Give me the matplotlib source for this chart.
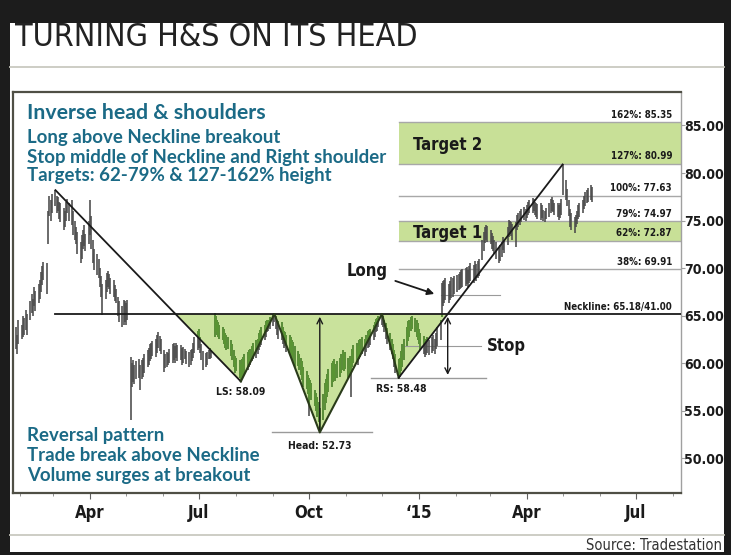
import os
import numpy as np
import pandas as pd
import matplotlib
matplotlib.use("Agg")
import matplotlib.pyplot as plt
import matplotlib.dates as mdates
from matplotlib import font_manager as fm
from matplotlib.patches import Rectangle, Polygon
from matplotlib.lines import Line2D

W, H = 731, 555
BLUE_FONT = ['Lato', 'DejaVu Sans']
BLUE = '#1b6a86'
GREEN_FILL = '#c9e29c'
GREEN_BAR = '#5a9832'
INK = '#1a1a1a'

# ---- price bars: daily low / high, one row per week (from Wed 29 Jan 2014)
first_day = '2014-01-29'
lows = [
    61.5, 61.0, 62.0,
    62.5, 62.8, 63.0, 63.5, 63.0,
    64.5, 65.3, 65.0, 66.0, 65.5,
    66.3, 66.8, 67.5, 68.2, 68.8,
    67.3, 72.5, 75.5, 75.0, 75.8,
    76.5, 75.8, 76.0, 75.2, 74.8,
    74.0, 74.3, 75.0, 75.8, 75.0,
    74.5, 73.5, 73.0, 72.5, 71.5,
    70.5, 71.0, 72.0, 72.3, 71.8,
    72.5, 73.5, 72.0, 70.5, 69.8,
    69.3, 69.0, 68.0, 67.0, 65.1,
    66.8, 67.5, 68.0, 67.8, 67.3,
    67.0, 66.5, 66.3, 65.0, 64.3,
    63.8, 64.0, 64.3, 64.0, 64.5,
    54.0, 57.5, 58.0, 57.8, 58.3,
    58.5, 57.2, 58.3, 58.6, 59.0,
    59.6, 59.8, 60.2, 60.5, 60.8,
    60.7, 61.1, 61.6, 61.3, 61.0,
    59.1, 59.5, 59.6, 59.8, 60.0,
    60.0, 60.3, 60.0, 60.6, 60.2,
    60.3, 59.8, 60.0, 60.4, 59.9,
    59.6, 59.8, 60.2, 60.6, 61.1,
    61.4, 61.6, 61.1, 60.3, 59.3,
    59.6, 59.8, 60.4, 60.5, 60.6,
    62.8, 63.3, 63.0, 62.8, 62.6,
    62.4, 62.0, 61.6, 61.4, 61.5,
    60.8, 60.3, 59.6, 59.0, 59.2,
    58.5, 58.09, 58.4, 58.6, 59.0,
    59.3, 59.6, 59.8, 60.2, 60.4,
    60.6, 61.0, 61.4, 61.7, 61.9,
    62.4, 62.8, 63.3, 63.4, 63.6,
    63.9, 64.3, 63.6, 63.0, 62.6,
    62.4, 62.0, 61.6, 61.8, 61.2,
    61.1, 60.9, 60.5, 60.0, 59.6,
    59.7, 59.3, 58.8, 58.2, 57.5,
    57.3, 56.8, 54.5, 56.5, 56.1,
    55.5, 55.0, 54.4, 53.8, 52.73,
    54.0, 55.1, 55.8, 56.5, 57.0,
    57.5, 58.0, 58.3, 58.1, 58.4,
    58.6, 59.0, 59.3, 59.2, 59.4,
    58.5, 58.8, 56.5, 59.6, 60.0,
    60.2, 59.8, 60.4, 60.7, 61.0,
    60.8, 61.2, 61.6, 61.7, 61.9,
    62.4, 62.8, 63.3, 63.4, 63.8,
    64.0, 63.8, 63.3, 62.6, 62.0,
    61.4, 61.0, 60.4, 59.6, 59.0,
    58.48, 58.6, 59.2, 59.6, 60.3,
    61.8, 62.3, 62.8, 63.4, 63.6,
    63.3, 62.8, 62.4, 62.0, 61.4,
    61.0, 60.7, 60.9, 61.1, 60.9,
    61.1, 61.3, 61.0, 61.5, 61.8,
    62.4, 64.9, 66.0, 66.3, 66.6,
    66.3, 66.6, 66.9, 67.0, 67.3,
    67.5, 67.7, 67.8, 67.9, 68.0,
    68.1, 68.3, 68.0, 68.4, 68.6,
    68.4, 68.8, 68.7, 69.0, 69.2,
    70.9, 71.8, 72.6, 73.0, 72.8,
    72.5, 72.0, 71.8, 71.5, 71.0,
    70.5, 70.7, 71.2, 71.9, 71.6,
    72.4, 73.3, 73.6, 73.4, 73.0,
    72.2, 74.0, 74.3, 74.5, 74.8,
    75.1, 75.0, 75.3, 75.6, 75.8,
    75.8, 76.0, 75.6, 75.4, 75.2,
    75.1, 75.3, 75.0, 74.9, 75.2,
    75.4, 75.8, 76.0, 75.9, 75.6,
    75.4, 75.1, 75.3, 75.6, 77.7,
    77.2, 76.5, 75.5, 74.3, 74.0,
    73.7, 74.3, 74.6, 75.2, 75.4,
    75.8, 76.2, 76.5, 76.9, 77.0,
    77.2, 77.0,
]
highs = [
    63.8, 63.0, 64.6,
    64.0, 65.0, 64.8, 65.6, 65.2,
    66.5, 67.3, 66.8, 68.0, 67.6,
    68.3, 68.8, 69.6, 70.2, 70.6,
    70.5, 76.0, 77.6, 77.2, 77.8,
    78.2, 77.6, 77.5, 77.0, 76.8,
    76.3, 76.0, 77.0, 77.3, 76.8,
    77.2, 76.0, 75.0, 74.3, 73.8,
    72.8, 73.5, 74.0, 74.5, 73.6,
    75.0, 77.2, 75.5, 73.0, 72.0,
    71.5, 71.0, 70.0, 69.2, 68.3,
    68.8, 69.5, 69.7, 69.4, 69.0,
    68.8, 68.2, 67.8, 67.0, 66.5,
    66.0, 66.7, 66.5, 66.3, 66.7,
    60.7, 60.0, 60.3, 59.8, 60.2,
    60.4, 59.8, 60.3, 60.6, 61.0,
    61.4, 61.6, 62.0, 62.1, 62.3,
    62.6, 63.0, 63.3, 62.9, 62.6,
    61.4, 61.0, 61.2, 61.1, 61.5,
    62.0, 62.1, 61.8, 62.1, 61.9,
    61.9, 61.6, 61.7, 61.5, 61.3,
    61.2, 61.4, 61.5, 62.1, 62.8,
    63.4, 63.6, 62.8, 62.0, 61.3,
    61.1, 61.2, 61.4, 61.6, 61.4,
    65.3, 65.0, 64.6, 64.3, 64.0,
    63.8, 63.6, 63.2, 63.0, 62.8,
    62.4, 62.0, 61.4, 60.8, 60.6,
    60.3, 59.9, 60.4, 60.7, 61.0,
    61.2, 61.4, 61.5, 61.8, 62.1,
    62.4, 62.6, 63.2, 63.5, 63.8,
    64.0, 64.4, 64.6, 64.5, 64.9,
    65.2, 65.3, 65.0, 64.6, 64.4,
    64.3, 63.8, 63.4, 63.3, 63.0,
    63.0, 62.8, 62.4, 62.2, 61.8,
    61.3, 61.0, 60.6, 60.2, 59.6,
    59.2, 58.8, 58.4, 58.2, 57.9,
    57.2, 56.9, 56.5, 55.9, 55.3,
    56.8, 57.9, 58.3, 58.9, 59.4,
    60.0, 60.2, 60.4, 59.9, 60.2,
    60.6, 61.0, 61.4, 61.1, 61.2,
    60.6, 60.8, 60.4, 61.5, 61.9,
    62.1, 61.8, 62.4, 62.6, 62.8,
    62.6, 63.0, 63.4, 63.5, 63.6,
    64.0, 64.3, 64.7, 64.8, 65.0,
    65.2, 65.0, 64.6, 64.2, 63.7,
    63.2, 62.6, 62.0, 61.4, 61.0,
    60.4, 60.6, 61.3, 62.0, 62.5,
    63.8, 64.4, 64.6, 64.9, 65.0,
    64.8, 64.5, 64.2, 63.6, 63.2,
    62.9, 62.5, 62.6, 62.8, 62.4,
    62.8, 63.0, 62.6, 63.2, 63.8,
    64.5, 68.4, 68.6, 68.8, 69.0,
    68.3, 68.7, 69.1, 69.0, 69.2,
    69.3, 69.4, 69.6, 69.8, 69.9,
    70.0, 70.1, 69.8, 70.2, 70.5,
    70.3, 70.8, 70.4, 70.8, 71.0,
    73.0, 73.8, 74.3, 74.5, 74.4,
    74.0, 73.7, 73.4, 73.0, 72.8,
    72.2, 72.4, 72.8, 73.3, 73.0,
    74.3, 75.1, 75.0, 74.8, 74.6,
    74.8, 75.6, 75.8, 76.0, 76.2,
    76.4, 76.2, 76.6, 77.0, 77.2,
    77.4, 77.3, 77.0, 76.9, 76.7,
    76.9, 76.6, 76.1, 76.0, 76.3,
    76.8, 77.3, 77.5, 77.2, 76.9,
    76.9, 76.6, 76.8, 77.3, 80.9,
    79.3, 78.3, 77.2, 76.2, 75.8,
    75.4, 75.6, 76.0, 76.6, 76.9,
    77.2, 77.6, 78.0, 78.2, 78.4,
    78.7, 78.5,
]

neckline = 65.18
level_pct = ['162%', '127%', '100%', '79%', '62%', '38%']
level_val = [85.35, 80.99, 77.63, 74.97, 72.87, 69.91]
band_lo = [80.99, 72.87]
band_hi = [85.35, 74.97]
band_names = ['Target 2', 'Target 1']
long_entry = 67.2

month_ticks = ['2014-04-01', '2014-07-01', '2014-10-01', '2015-01-01', '2015-04-01', '2015-07-01']
month_labels = ['Apr', 'Jul', 'Oct', '\u201815', 'Apr', 'Jul']
y_ticks = [50, 55, 60, 65, 70, 75, 80, 85]

notes_top = ['Long above Neckline breakout',
             'Stop middle of Neckline and Right shoulder',
             'Targets: 62-79% & 127-162% height']
notes_bottom = ['Reversal pattern',
                'Trade break above Neckline',
                'Volume surges at breakout']


# ---- condensed fonts, picked by file so the match is always the same
def font_file(names):
    files = {os.path.basename(f.fname): f.fname for f in fm.fontManager.ttflist}
    for n in names:
        if n in files:
            return files[n]
    return None


COND = font_file(['DejaVuSansCondensed.ttf', 'LiberationSansNarrow-Regular.ttf'])
COND_B = font_file(['DejaVuSansCondensed-Bold.ttf', 'LiberationSansNarrow-Bold.ttf'])


def cfont(size, bold=True):
    f = COND_B if bold else COND
    if f:
        return fm.FontProperties(fname=f, size=size)
    return fm.FontProperties(family='DejaVu Sans', weight='bold' if bold else 'normal',
                             size=size * 0.9)


# ---- pattern points from the bars
lows = np.array(lows)
highs = np.array(highs)
dates = pd.bdate_range(first_day, periods=len(lows))
xd = mdates.date2num(dates)


def pick(arr, start, end, fn):
    idx = np.where((dates >= start) & (dates <= end))[0]
    i = idx[fn(arr[idx])]
    return xd[i], arr[i]


peak = pick(highs, '2014-02-15', '2014-03-31', np.argmax)
ls = pick(lows, '2014-07-15', '2014-08-31', np.argmin)
head = pick(lows, '2014-09-15', '2014-11-15', np.argmin)
rs = pick(lows, '2014-12-05', '2014-12-31', np.argmin)
top = pick(highs, '2015-04-01', '2015-05-31', np.argmax)
n1x = pick(highs, '2014-08-20', '2014-09-15', np.argmax)[0]
n2x = pick(highs, '2014-11-20', '2014-12-10', np.argmax)[0]


def cross(p, q, level):
    t = (level - p[1]) / (q[1] - p[1])
    return p[0] + t * (q[0] - p[0])


c1x = cross(peak, ls, neckline)
c2x = cross(rs, top, neckline)
stop_level = (neckline + rs[1]) / 2

# ---- figure frame
fig = plt.figure(figsize=(W / 100, H / 100), dpi=100, facecolor='#1c1c1c')
fig.patches.append(Rectangle((10 / W, 3 / H), 714 / W, 529 / H, transform=fig.transFigure,
                             facecolor='white', edgecolor='none', zorder=-5))
for yy in (67, 535):
    fig.add_artist(Line2D([10 / W, 724 / W], [1 - yy / H] * 2, color='#c9c9c0', lw=1.3,
                          zorder=-4))

fig.text(15 / W, 1 - 37 / H, 'TURNING H&S ON ITS HEAD', fontproperties=cfont(23, False),
         color='#222222', va='center', ha='left')
fig.text(722 / W, 1 - 546 / H, 'Source: Tradestation', fontproperties=cfont(10.5, False),
         color='#333333', va='center', ha='right')

ax = fig.add_axes([13 / W, 1 - 493 / H, 668 / W, 401 / H])
xmin = mdates.date2num(pd.Timestamp('2014-01-26 12:00'))
xmax = mdates.date2num(pd.Timestamp('2015-08-08'))
ax.set_xlim(xmin, xmax)
ax.set_ylim(46.36, 88.52)

# target bands and level lines
for lo, hi, name in zip(band_lo, band_hi, band_names):
    ax.fill_between([rs[0], xmax], lo, hi, color='#c8e097', lw=0, zorder=1)
    ax.text(rs[0] + 12, (lo + hi) / 2 - 0.25, name, fontproperties=cfont(12), color=INK,
            va='center', ha='left', zorder=6)
for pct, val in zip(level_pct, level_val):
    ax.plot([rs[0], xmax], [val, val], color='#a8a8a8', lw=1.0, zorder=1.5)
    ax.text(xmax - 7.5, val + 0.25, f'{pct}: {val:.2f}', fontproperties=cfont(7), color=INK,
            va='bottom', ha='right', zorder=6)

# neckline
ax.plot([peak[0], xmax], [neckline, neckline], color=INK, lw=1.3, zorder=4)
ax.text(xmax - 7.5, neckline + 0.25, 'Neckline: 65.18/41.00', fontproperties=cfont(7),
        color=INK, va='bottom', ha='right', zorder=6)

# triangles, with the bars inside them drawn green
tris = [[(c1x, neckline), ls, (n1x, neckline)],
        [(n1x, neckline), head, (n2x, neckline)],
        [(n2x, neckline), rs, (c2x, neckline)]]
ax.vlines(xd, lows, highs, color='#4a4a4a', lw=1.15, zorder=2)
for tri in tris:
    ax.add_patch(Polygon(tri, closed=True, facecolor=GREEN_FILL, edgecolor='none', zorder=1))
    clip = Polygon(tri, closed=True, transform=ax.transData)
    vc = ax.vlines(xd, lows, highs, color=GREEN_BAR, lw=1.15, zorder=3)
    vc.set_clip_path(clip)

# pattern lines
ax.plot([peak[0], ls[0]], [peak[1], ls[1]], color=INK, lw=1.3, zorder=4)
ax.plot([ls[0], n1x, head[0], n2x, rs[0]], [ls[1], neckline, head[1], neckline, rs[1]],
        color='#2a3b1a', lw=1.5, zorder=4)
ax.plot([rs[0], top[0]], [rs[1], top[1]], color=INK, lw=1.3, zorder=4)

# guide lines
ax.plot([head[0] - 40, head[0] + 44], [head[1]] * 2, color='#9a9a9a', lw=1.0, zorder=1.5)
ax.plot([rs[0] - 23, rs[0] + 73], [rs[1]] * 2, color='#9a9a9a', lw=1.0, zorder=1.5)
ax.plot([rs[0] + 5, rs[0] + 69], [stop_level] * 2, color='#9a9a9a', lw=0.8, zorder=1.5)
ax.plot([c2x - 6, c2x + 44], [long_entry] * 2, color='#9a9a9a', lw=0.8, zorder=1.5)

ax.annotate('', xy=(head[0], neckline), xytext=(head[0], head[1]),
            arrowprops=dict(arrowstyle='->', color=INK, lw=1.0), zorder=5)
ax.annotate('', xy=(c2x, rs[1]), xytext=(c2x, neckline),
            arrowprops=dict(arrowstyle='<->', color=INK, lw=1.0), zorder=5)
ax.annotate('', xy=(c2x - 9, long_entry), xytext=(c2x - 46, 68.75),
            arrowprops=dict(arrowstyle='-|>', color=INK, lw=1.3, mutation_scale=10), zorder=5)
ax.text(c2x - 50, 69.7, 'Long', fontproperties=cfont(12), color=INK, ha='right',
        va='center', zorder=6)
ax.text(rs[0] + 74, stop_level, 'Stop', fontproperties=cfont(12), color=INK, ha='left',
        va='center', zorder=6)

ax.text(ls[0], ls[1] - 1.1, f'LS: {ls[1]:.2f}', fontproperties=cfont(7.5), color=INK,
        ha='center', va='center', zorder=6)
ax.text(head[0], head[1] - 1.45, f'Head: {head[1]:.2f}', fontproperties=cfont(7.5), color=INK,
        ha='center', va='center', zorder=6)
ax.text(rs[0] + 2.5, rs[1] - 1.2, f'RS: {rs[1]:.2f}', fontproperties=cfont(7.5), color=INK,
        ha='center', va='center', zorder=6)

# notes
fig.text(27 / W, 1 - 113 / H, 'Inverse head & shoulders', family=BLUE_FONT, fontsize=15.3,
         fontweight='bold', color=BLUE, va='center')
for k, s in enumerate(notes_top):
    fig.text(27 / W, 1 - (138 + 19 * k) / H, s, family=BLUE_FONT, fontsize=13.4,
             fontweight='bold', color=BLUE, va='center')
for k, s in enumerate(notes_bottom):
    fig.text(27 / W, 1 - (436 + 19.5 * k) / H, s, family=BLUE_FONT, fontsize=13.4,
             fontweight='bold', color=BLUE, va='center')

# axes styling
for side in ('left', 'top', 'bottom'):
    ax.spines[side].set_color('#4f4f45')
    ax.spines[side].set_linewidth(1.6)
ax.spines['right'].set_color('#a0a0a0')
ax.spines['right'].set_linewidth(1.0)

# y labels right-aligned against the panel edge
ax.yaxis.tick_right()
ax.set_yticks(y_ticks)
ax.set_yticklabels([f'{v:.2f}' for v in y_ticks])
ax.tick_params(axis='y', length=3, color='#a0a0a0', pad=27.8)
for t in ax.get_yticklabels():
    t.set_fontproperties(cfont(10.1))
    t.set_color(INK)
    t.set_horizontalalignment('right')

ax.set_xticks(mdates.date2num(pd.to_datetime(month_ticks)))
ax.set_xticklabels(month_labels)
for t in ax.get_xticklabels():
    t.set_fontproperties(cfont(12))
    t.set_color(INK)
ax.xaxis.set_minor_locator(mdates.MonthLocator())
ax.tick_params(axis='x', which='major', length=4, color='#606060', pad=4)
ax.tick_params(axis='x', which='minor', length=2.5, color='#808080')

fig.savefig('out.png', dpi=100, facecolor=fig.get_facecolor())
